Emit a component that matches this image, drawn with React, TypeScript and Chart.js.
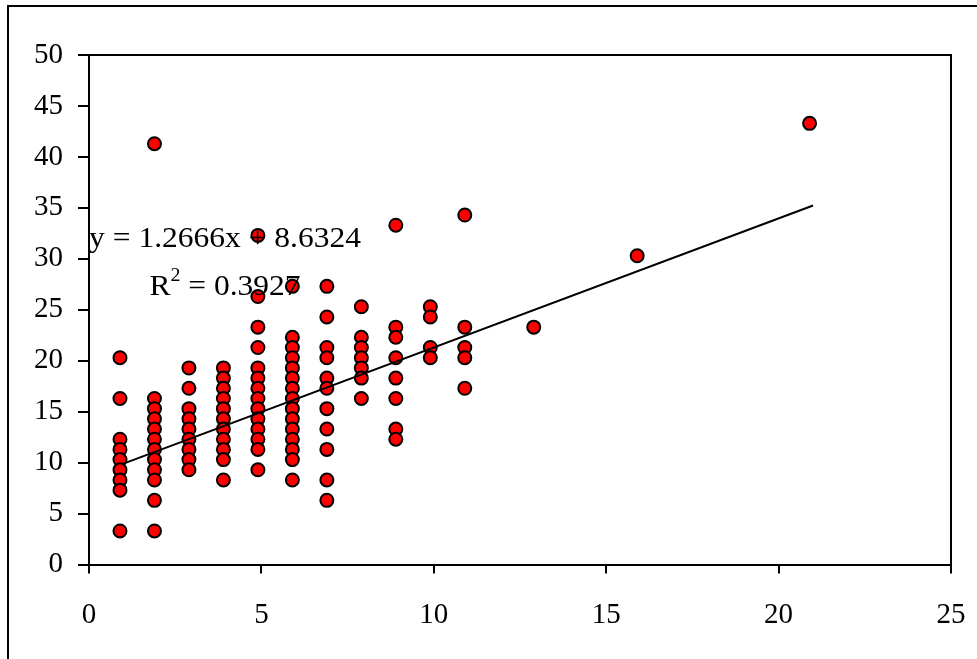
import React, { useEffect, useRef } from "react";
import { Chart, registerables } from "chart.js";

Chart.register(...registerables);

// Observed values, one array per x column
const columnX = [1, 2, 3, 4, 5, 6, 7, 8, 9, 10, 11, 13, 16, 21];
const yAtX1 = [20, 16, 12, 11, 10, 9, 8, 7, 3];
const yAtX2 = [41, 16, 15, 14, 13, 12, 11, 10, 9, 8, 6, 3];
const yAtX3 = [19, 17, 15, 14, 13, 12, 11, 10, 9];
const yAtX4 = [19, 18, 17, 16, 15, 14, 13, 12, 11, 10, 8];
const yAtX5 = [32, 26, 23, 21, 19, 18, 17, 16, 15, 14, 13, 12, 11, 9];
const yAtX6 = [27, 22, 21, 20, 19, 18, 17, 16, 15, 14, 13, 12, 11, 10, 8];
const yAtX7 = [27, 24, 21, 20, 18, 17, 15, 13, 11, 8, 6];
const yAtX8 = [25, 22, 21, 20, 19, 18, 16];
const yAtX9 = [33, 23, 22, 20, 18, 16, 13, 12];
const yAtX10 = [25, 24, 21, 20];
const yAtX11 = [34, 23, 21, 20, 17];
const yAtX13 = [23];
const yAtX16 = [30];
const yAtX21 = [43];
const columnY = [yAtX1, yAtX2, yAtX3, yAtX4, yAtX5, yAtX6, yAtX7, yAtX8, yAtX9, yAtX10, yAtX11, yAtX13, yAtX16, yAtX21];

// Trend line
const trendSlope = 1.2666;
const trendIntercept = 8.6324;
const rSquared = 0.3927;

// Axes
const xAxisMin = 0;
const xAxisMax = 25;
const xAxisStep = 5;
const yAxisMin = 0;
const yAxisMax = 50;
const yAxisStep = 5;

const SERIF = "'Liberation Serif', 'Times New Roman', Times, serif";

export default function App() {
  const canvasRef = useRef<HTMLCanvasElement | null>(null);

  useEffect(() => {
    const canvas = canvasRef.current;
    if (!canvas) return;

    const points: { x: number; y: number }[] = [];
    columnX.forEach((x, i) => columnY[i].forEach((y) => points.push({ x, y })));
    const xs = points.map((p) => p.x);
    const minX = Math.min(...xs);
    const maxX = Math.max(...xs);
    const trend = [
      { x: minX, y: trendSlope * minX + trendIntercept },
      { x: maxX, y: trendSlope * maxX + trendIntercept },
    ];

    const decor = {
      id: "decor",
      beforeDraw(chart: any) {
        const ctx = chart.ctx;
        ctx.save();
        ctx.fillStyle = "#ffffff";
        ctx.fillRect(0, 0, chart.width, chart.height);
        ctx.strokeStyle = "#000";
        ctx.lineWidth = 2;
        ctx.beginPath();
        ctx.moveTo(8, chart.height + 4);
        ctx.lineTo(8, 6);
        ctx.lineTo(chart.width + 4, 6);
        ctx.stroke();
        const a = chart.chartArea;
        ctx.beginPath();
        ctx.moveTo(a.left, a.top);
        ctx.lineTo(a.right, a.top);
        ctx.lineTo(a.right, a.bottom);
        ctx.stroke();
        ctx.restore();
      },
      // the reference's markers sit slightly up-left of their values
      beforeDatasetDraw(chart: any, args: any) {
        if (args.index === 1) {
          chart.ctx.save();
          chart.ctx.translate(-3.5, -3);
        }
      },
      afterDatasetDraw(chart: any, args: any) {
        if (args.index === 1) chart.ctx.restore();
      },
      afterDraw(chart: any) {
        const ctx = chart.ctx;
        ctx.save();
        ctx.fillStyle = "#000";
        ctx.textBaseline = "alphabetic";
        const cx = 225;
        const sx = 1.05;
        // equation line
        ctx.font = `30px ${SERIF}`;
        const eq = `y = ${trendSlope}x + ${trendIntercept}`;
        const eqW = ctx.measureText(eq).width * sx;
        ctx.save();
        ctx.translate(cx - eqW / 2, 247);
        ctx.scale(sx, 1);
        ctx.textAlign = "left";
        ctx.fillText(eq, 0, 0);
        ctx.restore();
        // R^2 line
        const partR = "R";
        const partSup = "2";
        const partRest = ` = ${rSquared}`;
        ctx.font = `30px ${SERIF}`;
        const wR = ctx.measureText(partR).width;
        const wRest = ctx.measureText(partRest).width;
        ctx.font = `19px ${SERIF}`;
        const wSup = ctx.measureText(partSup).width;
        const total = (wR + wSup + wRest) * sx;
        ctx.save();
        ctx.translate(cx - total / 2, 295);
        ctx.scale(sx, 1);
        ctx.textAlign = "left";
        ctx.font = `30px ${SERIF}`;
        ctx.fillText(partR, 0, 0);
        ctx.font = `19px ${SERIF}`;
        ctx.fillText(partSup, wR, -14);
        ctx.font = `30px ${SERIF}`;
        ctx.fillText(partRest, wR + wSup, 0);
        ctx.restore();
        ctx.restore();
      },
    };

    const chart = new Chart(canvas, {
      type: "scatter",
      data: {
        datasets: [
          {
            type: "line",
            label: "Trend",
            data: trend,
            borderColor: "#000",
            borderWidth: 2,
            pointRadius: 0,
            fill: false,
            showLine: true,
          } as any,
          {
            label: "Data",
            data: points,
            backgroundColor: "#ff0000",
            borderColor: "#000",
            borderWidth: 2,
            pointRadius: 6.5,
            pointHoverRadius: 6.5,
          },
        ],
      },
      options: {
        animation: false,
        responsive: false,
        devicePixelRatio: 1,
        events: [],
        layout: { padding: { left: 0, top: 55, right: 26, bottom: 0 } },
        plugins: {
          legend: { display: false },
          tooltip: { enabled: false },
          title: { display: false },
        },
        scales: {
          x: {
            type: "linear",
            min: xAxisMin,
            max: xAxisMax,
            afterFit: (s: any) => {
              s.height = 94.5;
              s.paddingLeft = 0;
              s.paddingRight = 0;
            },
            ticks: {
              stepSize: xAxisStep,
              color: "#000",
              padding: 24,
              font: { family: SERIF, size: 29 },
              maxRotation: 0,
            },
            grid: {
              display: true,
              drawOnChartArea: false,
              drawTicks: true,
              tickLength: 9,
              color: "#000",
              lineWidth: 2,
            },
            border: { display: true, color: "#000", width: 2 },
          },
          y: {
            type: "linear",
            min: yAxisMin,
            max: yAxisMax,
            afterFit: (s: any) => {
              s.width = 89;
            },
            ticks: {
              stepSize: yAxisStep,
              color: "#000",
              padding: 15,
              font: { family: SERIF, size: 29 },
            },
            grid: {
              display: true,
              drawOnChartArea: false,
              drawTicks: true,
              tickLength: 11,
              color: "#000",
              lineWidth: 2,
            },
            border: { display: true, color: "#000", width: 2 },
          },
        },
      },
      plugins: [decor],
    });

    return () => chart.destroy();
  }, []);

  return (
    <div style={{ position: "fixed", left: 0, top: 0, width: 977, height: 659, background: "#fff" }}>
      <canvas ref={canvasRef} width={977} height={659} style={{ display: "block", width: 977, height: 659 }} />
    </div>
  );
}
